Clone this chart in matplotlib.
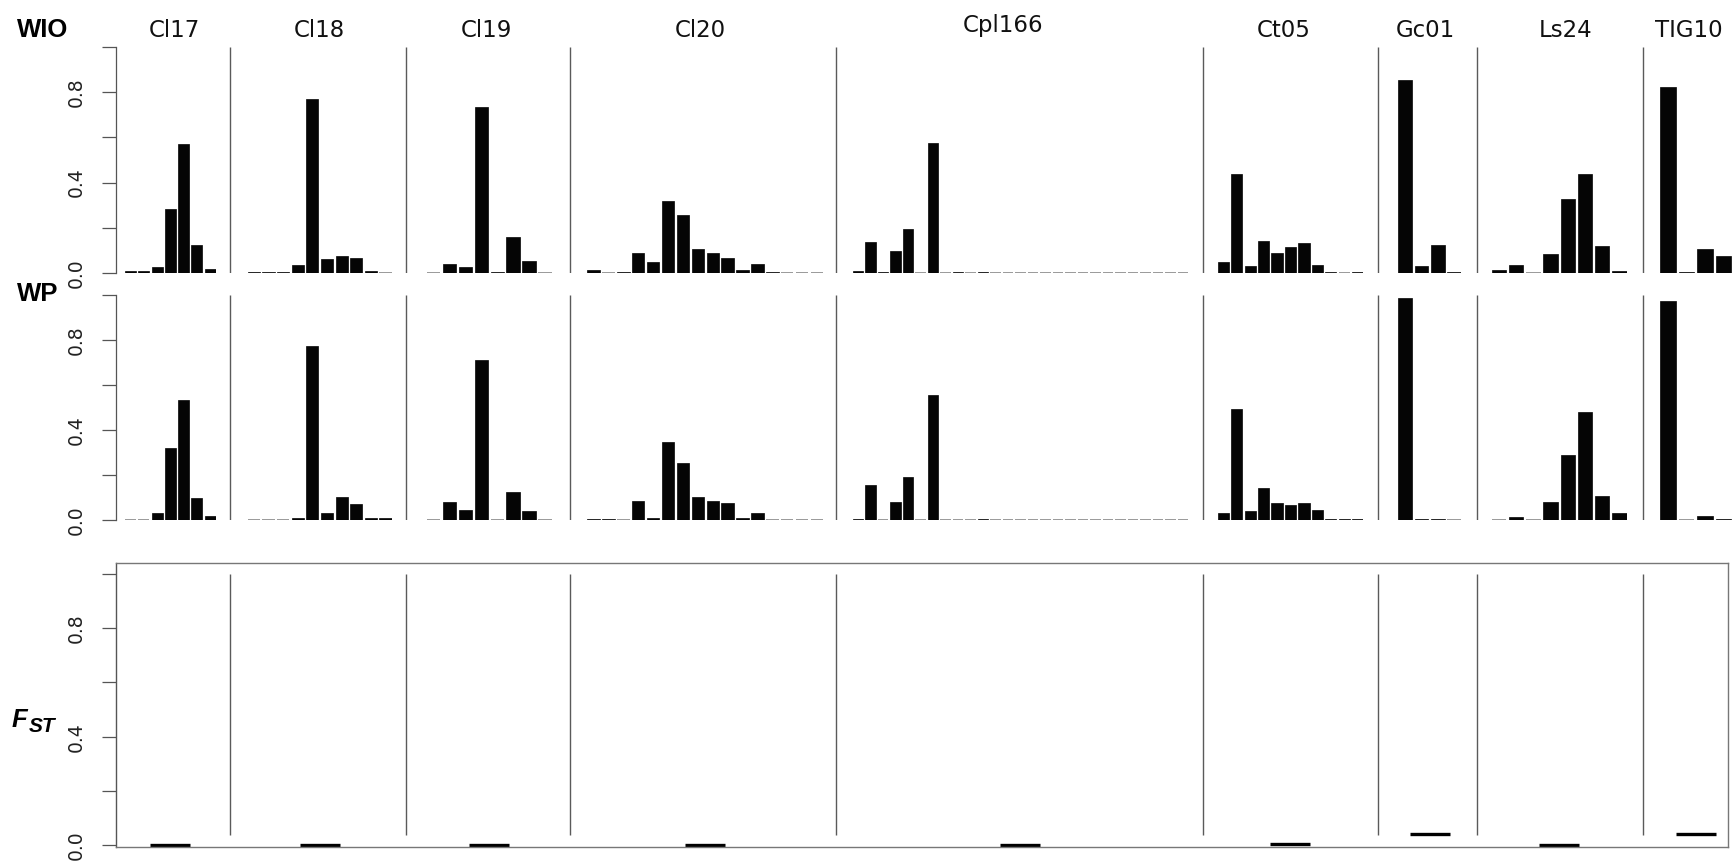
import matplotlib
matplotlib.use("Agg")
import matplotlib.pyplot as plt
import numpy as np

# ---------------- data ----------------
loci = ["Cl17", "Cl18", "Cl19", "Cl20", "Cpl166", "Ct05", "Gc01", "Ls24", "TIG10"]

wio_Cl17 = [0.009, 0.007, 0.027, 0.281, 0.570, 0.123, 0.016]
wio_Cl18 = [0.004, 0.004, 0.004, 0.034, 0.768, 0.061, 0.074, 0.068, 0.010, 0.0]
wio_Cl19 = [0.0, 0.041, 0.027, 0.734, 0.005, 0.161, 0.052, 0.0]
wio_Cl20 = [0.012, 0.0, 0.006, 0.090, 0.049, 0.319, 0.258, 0.104, 0.090, 0.068,
            0.013, 0.042, 0.004, 0.0, 0.0, 0.0]
wio_Cpl166 = [0.010, 0.138, 0.006, 0.096, 0.196, 0.0, 0.575, 0.0, 0.005, 0.0,
              0.005, 0.0, 0.0, 0.0, 0.0, 0.0, 0.0, 0.0, 0.0, 0.0,
              0.0, 0.0, 0.0, 0.0, 0.0, 0.0, 0.0]
wio_Ct05 = [0.048, 0.436, 0.031, 0.142, 0.089, 0.115, 0.134, 0.035, 0.006, 0.0, 0.004]
wio_Gc01 = [0.852, 0.030, 0.125, 0.005]
wio_Ls24 = [0.014, 0.034, 0.0, 0.086, 0.328, 0.439, 0.120, 0.007]
wio_TIG10 = [0.821, 0.006, 0.108, 0.077]

wp_Cl17 = [0.0, 0.0, 0.030, 0.319, 0.533, 0.099, 0.018]
wp_Cl18 = [0.0, 0.0, 0.0, 0.009, 0.774, 0.030, 0.101, 0.070, 0.007, 0.007]
wp_Cl19 = [0.0, 0.082, 0.045, 0.714, 0.0, 0.125, 0.039, 0.0]
wp_Cl20 = [0.006, 0.006, 0.0, 0.083, 0.007, 0.347, 0.254, 0.101, 0.083, 0.077,
           0.007, 0.031, 0.0, 0.0, 0.0, 0.0]
wp_Cpl166 = [0.006, 0.156, 0.0, 0.082, 0.193, 0.0, 0.556, 0.0, 0.0, 0.0,
             0.006, 0.0, 0.0, 0.0, 0.0, 0.0, 0.0, 0.0, 0.0, 0.0,
             0.0, 0.0, 0.0, 0.0, 0.0, 0.0, 0.0]
wp_Ct05 = [0.030, 0.494, 0.039, 0.144, 0.077, 0.068, 0.077, 0.043, 0.005, 0.005, 0.005]
wp_Gc01 = [0.990, 0.006, 0.006, 0.0]
wp_Ls24 = [0.0, 0.012, 0.0, 0.082, 0.289, 0.479, 0.105, 0.030]
wp_TIG10 = [0.976, 0.0, 0.019, 0.006]

fst = [0.002, 0.002, 0.002, 0.002, 0.002, 0.005, 0.042, 0.002, 0.041]

y_ticks = [0.0, 0.2, 0.4, 0.6, 0.8, 1.0]
y_ticklabels = ["0.0", "", "0.4", "", "0.8", ""]
row_labels = ["WIO", "WP"]

wio = [wio_Cl17, wio_Cl18, wio_Cl19, wio_Cl20, wio_Cpl166, wio_Ct05, wio_Gc01, wio_Ls24, wio_TIG10]
wp = [wp_Cl17, wp_Cl18, wp_Cl19, wp_Cl20, wp_Cpl166, wp_Ct05, wp_Gc01, wp_Ls24, wp_TIG10]

# ---------------- layout (pixels of the 1732x867 canvas) ----------------
W, H = 1732, 867
BAR_SPAN = [(125, 215.7), (247.7, 391.7), (426.7, 551.7), (587.3, 823.3),
            (852.7, 1188.0), (1217.7, 1363.3), (1398.3, 1461.0), (1491.7, 1626.7),
            (1660.0, 1731.5)]
SEP_PX = [230, 406, 570, 836, 1203, 1378.3, 1476.7, 1643.3]
TITLE_X = [174, 319.6, 486, 700, 1003, 1283.7, 1425, 1566, 1689]
TITLE_Y = [36.7, 36.7, 36.7, 36.7, 31.7, 36.7, 36.7, 36.7, 36.7]
AXIS_X = 116
ROWS = [(47.0, 273.0), (295.3, 520.0)]   # (y of 1.0, y of 0.0)
BOT = (562.7, 846.7)                      # box top, box bottom
BOT_YLIM = (-0.006, 1.042)
BOT_RIGHT = 1728

AX_COL = "#555555"
SEP_COL = "#5a5a5a"

plt.rcParams["font.family"] = ["DejaVu Sans"]

fig = plt.figure(figsize=(W / 100, H / 100), dpi=100)


def fax(x0, x1, ytop, ybot):
    return fig.add_axes([x0 / W, 1 - ybot / H, (x1 - x0) / W, (ybot - ytop) / H])


def style_yaxis(ax):
    ax.set_yticks(y_ticks)
    ax.set_yticklabels(y_ticklabels)
    ax.tick_params(axis="y", length=10, width=0.9, color=AX_COL, labelsize=13.5,
                   pad=12, labelcolor="#222222")
    for lab in ax.get_yticklabels():
        lab.set_rotation(90)
        lab.set_va("center")
    ax.set_xticks([])


# top two rows
for r, (ytop, ybot) in enumerate(ROWS):
    data = [wio, wp][r]
    axr = fax(AXIS_X, W, ytop, ybot)
    axr.set_xlim(AXIS_X, W)
    axr.set_ylim(0, 1)
    axr.patch.set_alpha(0)
    for s in ["top", "right", "bottom"]:
        axr.spines[s].set_visible(False)
    axr.spines["left"].set_bounds(0, 1)
    axr.spines["left"].set_color(AX_COL)
    axr.spines["left"].set_linewidth(0.9)
    style_yaxis(axr)
    axr.vlines(SEP_PX, 0, 1, color=SEP_COL, lw=1.0)

    for k, vals in enumerate(data):
        x0, x1 = BAR_SPAN[k]
        n = len(vals)
        ax = fax(x0, x1, ytop, ybot)
        ax.set_xlim(0.2, 1.2 * n)
        ax.set_ylim(0, 1)
        ax.axis("off")
        ax.patch.set_alpha(0)
        v = np.array(vals)
        pos = 0.7 + 1.2 * np.arange(n)
        ec = ["#9a9a9a" if h == 0 else "#050505" for h in v]
        lw = [1.4 if h == 0 else 0.5 for h in v]
        ax.bar(pos, v, width=1.0, color="#050505", edgecolor=ec, linewidth=lw)

    fig.text(17 / W, 1 - [37.0, 301.0][r] / H, row_labels[r], fontsize=18.5,
             fontweight="bold", family="Liberation Sans", va="baseline", ha="left")

# bottom FST row
axb = fax(AXIS_X, BOT_RIGHT, BOT[0], BOT[1])
axb.set_xlim(AXIS_X, BOT_RIGHT)
axb.set_ylim(*BOT_YLIM)
for s in axb.spines.values():
    s.set_color("#777777")
    s.set_linewidth(1.0)
axb.spines["left"].set_color(AX_COL)
style_yaxis(axb)
axb.vlines(SEP_PX, 0.037, 1.0, color=SEP_COL, lw=1.0)
centers = [(a + b) / 2 for a, b in BAR_SPAN]
half = 20
axb.hlines(fst, [c - half for c in centers], [c + half for c in centers],
           color="black", lw=2.4, capstyle="butt")

# F_ST label
fig.text(11.5 / W, 1 - 727 / H, "F", fontsize=18.5, fontweight="bold",
         style="italic", family="Liberation Sans", va="baseline", ha="left")
fig.text(28.5 / W, 1 - 732 / H, "ST", fontsize=15, fontweight="bold",
         style="italic", family="Liberation Sans", va="baseline", ha="left")

# locus titles
for k, name in enumerate(loci):
    fig.text(TITLE_X[k] / W, 1 - TITLE_Y[k] / H, name, fontsize=16.5,
             ha="center", va="baseline", color="#111111")

fig.savefig("out.png", dpi=100)
